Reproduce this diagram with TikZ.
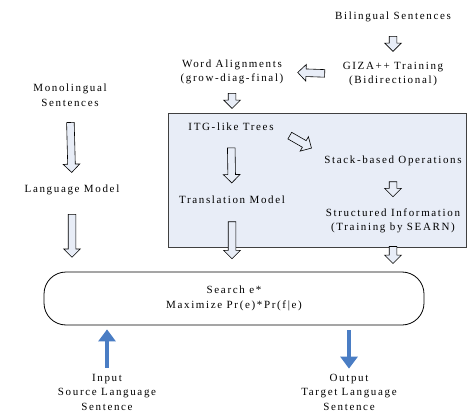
\documentclass[tikz,border=0pt]{standalone}
\usepackage{fontspec}
\setmainfont{Liberation Serif}[LetterSpace=15]
\usetikzlibrary{calc,shapes.arrows,arrows.meta}
\definecolor{paleblue}{HTML}{E8EDF7}
\definecolor{midblue}{HTML}{4A7DC4}
\tikzset{
  txt/.style={inner sep=1pt, align=center, font=\fontsize{11}{14.5}\selectfont},
  fat/.style={single arrow, draw, fill=paleblue, line width=0.6pt, inner xsep=0pt,
    inner ysep=3.5pt, single arrow head extend=4.5pt},
  bluearrow/.style={draw=midblue, line width=4pt, -{Triangle[length=12pt,width=17pt]},
    shorten <=5pt, shorten >=4pt}
}
% hollow arrow of length #3, centred between #1 and #2
\newcommand{\fatarrow}[3]{%
  \path let \p1=(#1), \p2=(#2), \n1={atan2(\y2-\y1,\x2-\x1)} in
    node[fat, rotate=\n1, minimum height=#3] at ($(#1)!0.5!(#2)$) {};}
\begin{document}
\begin{tikzpicture}[x=1pt, y=-1pt]
\useasboundingbox (0,0) rectangle (470,411);
\node[draw=black!75, fill=paleblue, line width=0.8pt, minimum width=298pt, minimum height=134pt, inner sep=0pt] (core) at (317,180) {};
\node[txt] (bil)    at (393,17)  {Bilingual Sentences};
\node[txt] (giza)   at (393,74)  {GIZA++ Training\\(Bidirectional)};
\node[txt] (align)  at (232,72)  {Word Alignments\\(grow-diag-final)};
\node[txt] (mono)   at (70,95)   {Monolingual\\Sentences};
\node[txt] (lm)     at (72,190)  {Language Model};
\node[txt] (itg)    at (231,127) {ITG-like Trees};
\node[txt] (tm)     at (232,200) {Translation Model};
\node[txt] (stack)  at (393,161) {Stack-based Operations};
\node[txt] (struct) at (393,221) {Structured Information\\(Training by SEARN)};
\node[txt, draw, line width=0.8pt, rounded corners=22pt, minimum width=380pt, minimum height=53pt] (search) at (234,298.5) {Search e*\\Maximize Pr(e)*Pr(f|e)};
\node[txt] (input)  at (107,392) {Input\\Source Language\\Sentence};
\node[txt] (output) at (349,392) {Output\\Target Language\\Sentence};
% hollow arrows
\fatarrow{bil.south}{giza.north}{15pt}
\fatarrow{giza.west}{align.east}{27pt}
\fatarrow{align.south}{align.south |- core.north}{15pt}
\fatarrow{mono.south}{lm.north}{50pt}
\fatarrow{lm.south}{lm.south |- search.north}{43pt}
\fatarrow{itg.south}{tm.north}{35pt}
\fatarrow{itg.east}{stack.north west}{25pt}
\fatarrow{tm.south}{tm.south |- search.north}{37pt}
\fatarrow{stack.south}{struct.north}{15pt}
\fatarrow{struct.south}{struct.south |- search.north}{17pt}
% input and output
\draw[bluearrow] (input.north) -- (input.north |- search.south);
\draw[bluearrow] (output.north |- search.south) -- (output.north);
\end{tikzpicture}
\end{document}
